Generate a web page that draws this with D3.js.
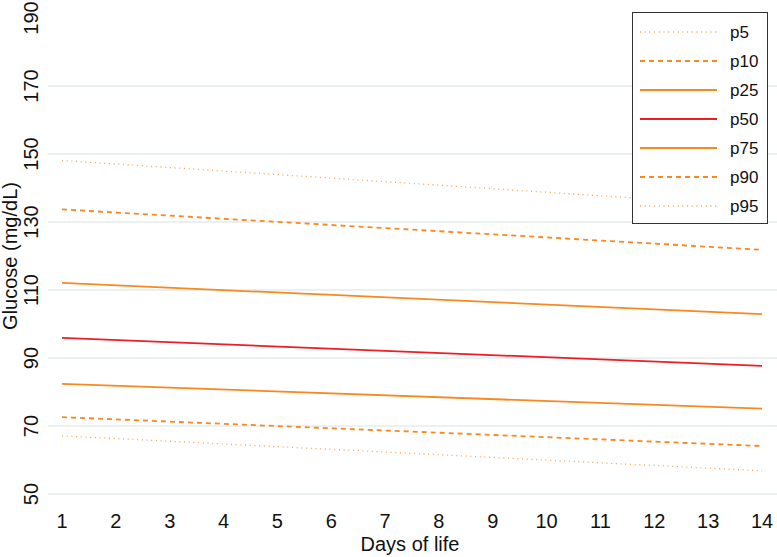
<!DOCTYPE html>
<html>
<head>
<meta charset="utf-8">
<script src="https://cdn.jsdelivr.net/npm/d3@7"></script>
<style>
  html, body { margin: 0; padding: 0; background: #fff; }
  svg { display: block; font-family: "Liberation Sans", Arial, Helvetica, sans-serif; }
</style>
</head>
<body>
<svg id="chart" width="777" height="557"></svg>
<script>
// ---- data ----
const days = [1, 14];
const dayTicks = [1,2,3,4,5,6,7,8,9,10,11,12,13,14];
const glucoseTicks = [50, 70, 90, 110, 130, 150, 170, 190];
const seriesNames = ["p5", "p10", "p25", "p50", "p75", "p90", "p95"];
const p5  = [67.1, 56.8];
const p10 = [72.6, 64.1];
const p25 = [82.4, 75.1];
const p50 = [95.9, 87.7];
const p75 = [112.1, 102.9];
const p90 = [133.7, 121.8];
const p95 = [148.1, 134.6];
const seriesValues = [p5, p10, p25, p50, p75, p90, p95];

// ---- styles ----
const orange = "#f7891f";
const red = "#ee1c25";
const styles = {
  p5:  { color: orange, dash: "1,3.7", width: 1.3, opacity: 0.8 },
  p10: { color: orange, dash: "5,4",   width: 1.8, opacity: 1 },
  p25: { color: orange, dash: null,    width: 1.8, opacity: 1 },
  p50: { color: red,    dash: null,    width: 1.8, opacity: 1 },
  p75: { color: orange, dash: null,    width: 1.8, opacity: 1 },
  p90: { color: orange, dash: "5,4",   width: 1.8, opacity: 1 },
  p95: { color: orange, dash: "1,3.7", width: 1.3, opacity: 0.8 }
};

const svg = d3.select("#chart");
const x = d3.scaleLinear().domain([1, 14]).range([62, 762]);
const y = d3.scaleLinear().domain([50, 190]).range([494, 18]);

// gridlines (none at top 190)
svg.append("g").selectAll("line")
  .data(glucoseTicks.filter(t => t < 190))
  .join("line")
  .attr("x1", 48).attr("x2", 777)
  .attr("y1", d => y(d)).attr("y2", d => y(d))
  .attr("stroke", "#e4ecef").attr("stroke-width", 1.4);

// y tick labels (rotated)
svg.append("g").selectAll("text")
  .data(glucoseTicks)
  .join("text")
  .attr("transform", d => `translate(38,${y(d)}) rotate(-90)`)
  .attr("text-anchor", "middle")
  .attr("font-size", 20)
  .attr("fill", "#111")
  .text(d => d);

// x tick labels
svg.append("g").selectAll("text")
  .data(dayTicks)
  .join("text")
  .attr("x", d => x(d)).attr("y", 528)
  .attr("text-anchor", "middle")
  .attr("font-size", 20)
  .attr("fill", "#111")
  .text(d => d);

// axis titles
svg.append("text")
  .attr("transform", `translate(17,256) rotate(-90)`)
  .attr("text-anchor", "middle")
  .attr("font-size", 20)
  .attr("fill", "#111")
  .text("Glucose (mg/dL)");
svg.append("text")
  .attr("x", 410).attr("y", 551)
  .attr("text-anchor", "middle")
  .attr("font-size", 20)
  .attr("fill", "#111")
  .text("Days of life");

// lines
const line = d3.line().x(d => x(d[0])).y(d => y(d[1]));
seriesNames.forEach((name, i) => {
  const st = styles[name];
  svg.append("path")
    .datum(days.map((dd, j) => [dd, seriesValues[i][j]]))
    .attr("d", line)
    .attr("fill", "none")
    .attr("stroke", st.color)
    .attr("stroke-width", st.width)
    .attr("stroke-opacity", st.opacity)
    .attr("stroke-dasharray", st.dash);
});

// legend
const lg = svg.append("g");
lg.append("rect")
  .attr("x", 632.5).attr("y", 12.5).attr("width", 135).attr("height", 211)
  .attr("fill", "#fff").attr("stroke", "#333").attr("stroke-width", 1);
seriesNames.forEach((name, i) => {
  const st = styles[name];
  const yy = 32 + i * 29;
  lg.append("line")
    .attr("x1", 640).attr("x2", 717).attr("y1", yy).attr("y2", yy)
    .attr("stroke", st.color)
    .attr("stroke-width", st.width)
    .attr("stroke-opacity", st.opacity)
    .attr("stroke-dasharray", st.dash);
  lg.append("text")
    .attr("x", 730).attr("y", yy + 6)
    .attr("font-size", 17)
    .attr("fill", "#111")
    .text(name);
});
</script>
</body>
</html>
